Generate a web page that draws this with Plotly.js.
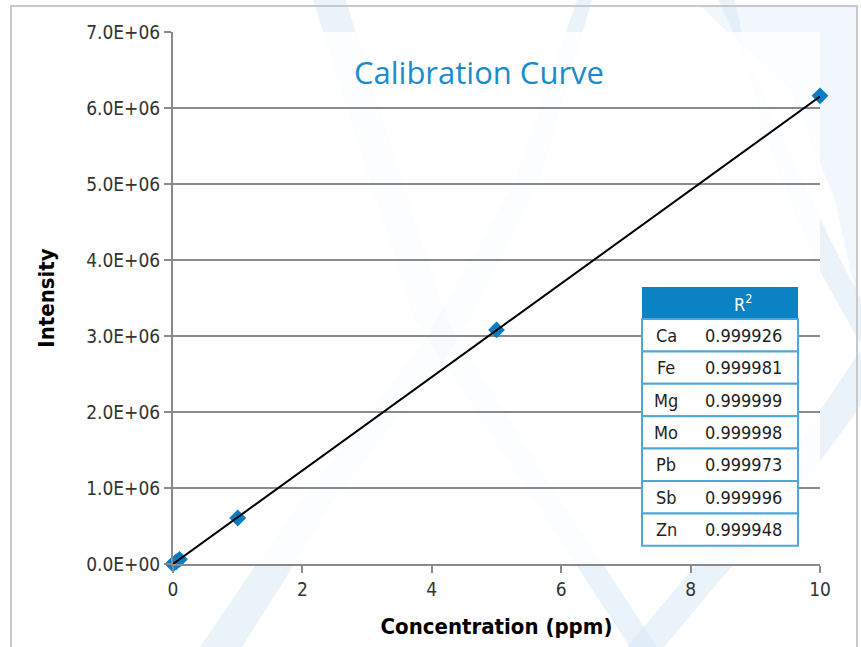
<!DOCTYPE html>
<html>
<head>
<meta charset="utf-8">
<script src="https://cdn.plot.ly/plotly-3.0.1.min.js"></script>
<style>html,body{margin:0;padding:0;background:#fff;}#chart{width:861px;height:647px;}</style>
</head>
<body>
<div id="chart"></div>
<script>
// ---- data ----
const concentration = [0, 0.05, 0.1, 1, 5, 10];
const intensity = [0, 3.0e4, 6.1e4, 6.05e5, 3.08e6, 6.16e6];
const fitX = [0, 10];
const fitY = [0, 6.15e6];
const yTickVals = [0, 1e6, 2e6, 3e6, 4e6, 5e6, 6e6, 7e6];
const yTickText = ['0.0E+00','1.0E+06','2.0E+06','3.0E+06','4.0E+06','5.0E+06','6.0E+06','7.0E+06'];
const xTickVals = [0, 2, 4, 6, 8, 10];
const elements = ['Ca','Fe','Mg','Mo','Pb','Sb','Zn'];
const r2Values = ['0.999926','0.999981','0.999999','0.999998','0.999973','0.999996','0.999948'];

// ---- geometry helpers (pixel -> paper) ----
const L = 173, R = 820, T = 32, B = 564;
const W = R - L, H = B - T;
const px = x => (x - L) / W;
const py = y => (B - y) / H;
const path = pts => 'M ' + pts.map(p => px(p[0]).toFixed(4) + ' ' + py(p[1]).toFixed(4)).join(' L ') + ' Z';

const narrow = '"Liberation Sans Narrow", "Arial Narrow", "DejaVu Sans Condensed", sans-serif';
const band = 'rgba(214,232,246,0.5)';

const shapes = [
  // decorative bands
  {type:'path', layer:'below', xref:'paper', yref:'paper', line:{width:0}, fillcolor:band,
   path: path([[313,0],[360,150],[415,320],[520,480],[630,647],[657,647],[548,480],[448,320],[392,150],[346,0]])},
  {type:'path', layer:'below', xref:'paper', yref:'paper', line:{width:0}, fillcolor:band,
   path: path([[200,647],[300,500],[428,335],[515,180],[577,0],[592,0],[540,180],[462,335],[335,500],[242,647]])},
  {type:'path', layer:'below', xref:'paper', yref:'paper', line:{width:0}, fillcolor:band,
   path: path([[718,0],[775,120],[828,235],[861,300],[861,345],[815,262],[762,130],[735,0]])},
  {type:'path', layer:'below', xref:'paper', yref:'paper', line:{width:0}, fillcolor:band,
   path: path([[627,647],[700,560],[780,470],[861,350],[861,405],[800,490],[720,580],[664,647]])},
  {type:'path', layer:'below', xref:'paper', yref:'paper', line:{width:0}, fillcolor:'rgba(214,232,246,0.35)',
   path: path([[700,6],[857,6],[857,300],[835,200],[790,90]])},
  // plot area wash
  {type:'rect', layer:'below', xref:'paper', yref:'paper', x0:0, x1:1, y0:0, y1:1,
   line:{width:0}, fillcolor:'rgba(255,255,255,0.78)'},
  // outer frame
  {type:'rect', layer:'above', xref:'paper', yref:'paper', x0:px(11), x1:px(857), y0:py(660), y1:py(6),
   line:{color:'#c9c9c9', width:2}, fillcolor:'rgba(0,0,0,0)'},
];

// table
const tL = 642, tR = 798, hTop = 287, hBot = 319, rowH = 32.4;
shapes.push({type:'rect', layer:'above', xref:'paper', yref:'paper',
  x0:px(tL), x1:px(tR), y0:py(hBot), y1:py(hTop), line:{width:0}, fillcolor:'#0a82c4'});
elements.forEach((el, i) => {
  const y0 = hBot + i * rowH, y1 = y0 + rowH;
  shapes.push({type:'rect', layer:'above', xref:'paper', yref:'paper',
    x0:px(tL), x1:px(tR), y0:py(y1), y1:py(y0), line:{color:'#4da6dc', width:2}, fillcolor:'#ffffff'});
});

const ann = (text, x, y, font) => ({text, xref:'paper', yref:'paper', x:px(x), y:py(y),
  xanchor:'center', yanchor:'middle', showarrow:false, font});
const cellFont = {family:narrow, size:18, color:'#231f20'};
const annotations = [
  ann('Calibration Curve', 479, 72, {family:'"Open Sans", sans-serif', size:31, color:'#1a8ccc'}),
  ann('R<sup>2</sup>', 743, 303, {family:narrow, size:18, color:'#ffffff'}),
];
elements.forEach((el, i) => {
  const yc = hBot + (i + 0.5) * rowH;
  annotations.push(ann(el, 666, yc, cellFont));
  annotations.push(ann(r2Values[i], 743, yc, cellFont));
});

const traces = [
  {x:concentration, y:intensity, mode:'markers', type:'scatter', cliponaxis:false,
   marker:{symbol:'diamond', size:13, color:'#0a7cc1'}, hoverinfo:'skip'},
  {x:fitX, y:fitY, mode:'lines', type:'scatter', cliponaxis:false,
   line:{color:'#000000', width:2}, hoverinfo:'skip'},
];

const layout = {
  width:861, height:647,
  margin:{l:L, r:861 - R, t:T, b:647 - B, pad:0},
  paper_bgcolor:'#ffffff', plot_bgcolor:'rgba(0,0,0,0)',
  showlegend:false,
  font:{family:narrow, color:'#333333'},
  xaxis:{range:[0,10], tickvals:xTickVals, showgrid:false, zeroline:false,
    showline:true, linecolor:'#8a8a8a', linewidth:2,
    ticks:'outside', ticklen:7, tickwidth:2, tickcolor:'#8a8a8a',
    tickfont:{family:narrow, size:19, color:'#333333'},
    title:{text:'<b>Concentration (ppm)</b>', standoff:20, font:{family:narrow, size:22, color:'#000000'}}},
  yaxis:{range:[0,7e6], tickvals:yTickVals, ticktext:yTickText, showgrid:true, gridcolor:'#8a8a8a', gridwidth:2,
    zeroline:false, showline:true, linecolor:'#8a8a8a', linewidth:2,
    ticks:'outside', ticklen:7, tickwidth:2, tickcolor:'#8a8a8a',
    tickfont:{family:narrow, size:19, color:'#333333'},
    title:{text:'<b>Intensity</b>', standoff:25, font:{family:narrow, size:22, color:'#000000'}}},
  shapes:shapes,
  annotations:annotations,
};

Plotly.newPlot('chart', traces, layout, {staticPlot:true, displayModeBar:false});
</script>
</body>
</html>
